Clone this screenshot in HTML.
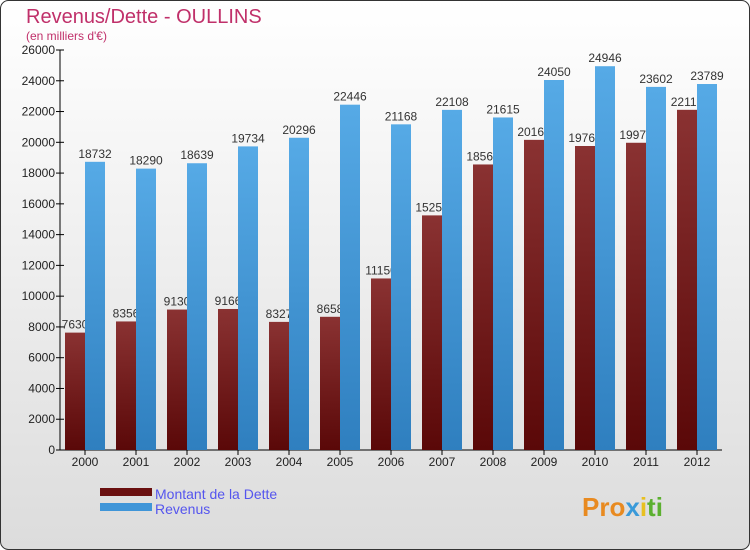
<!DOCTYPE html>
<html><head><meta charset="utf-8"><style>
body{margin:0;background:#fff}
svg{display:block;font-family:"Liberation Sans",sans-serif}
</style></head><body>
<svg id="c" width="750" height="550" xmlns="http://www.w3.org/2000/svg">
<defs>
<linearGradient id="bg" x1="0" y1="0" x2="0" y2="1"><stop offset="0" stop-color="#ffffff"/><stop offset="1" stop-color="#dcdcdc"/></linearGradient>
<linearGradient id="gd" x1="0" y1="0" x2="0" y2="1"><stop offset="0" stop-color="#8a3232"/><stop offset="1" stop-color="#5a0808"/></linearGradient>
<linearGradient id="gr" x1="0" y1="0" x2="0" y2="1"><stop offset="0" stop-color="#56aae6"/><stop offset="1" stop-color="#2f7fbf"/></linearGradient>
</defs>
<rect x="0.5" y="0.5" width="749" height="549" rx="8" fill="url(#bg)" stroke="#333"/>
<text x="26" y="23" font-size="20" fill="#c0306a">Revenus/Dette - OULLINS</text>
<text x="26" y="40" font-size="12" fill="#c0306a">(en milliers d'€)</text>
<g id="plot"></g>
<rect x="100" y="488" width="52" height="8" fill="#6a1010"/>
<text x="155" y="499" font-size="14" fill="#5555ee">Montant de la Dette</text>
<rect x="100" y="503" width="52" height="8" fill="#3f95d8"/>
<text x="155" y="514" font-size="14" fill="#5555ee">Revenus</text>
<text x="582" y="516" font-size="26" font-weight="bold" fill="#e88a20">Pro<tspan fill="#3a9ad9">x</tspan><tspan fill="#e8c020">i</tspan><tspan fill="#5cb030">ti</tspan></text>
</svg>
<script>
const years=["2000","2001","2002","2003","2004","2005","2006","2007","2008","2009","2010","2011","2012"];
const dette=[7630,8356,9130,9166,8327,8658,11150,15250,18560,20160,19760,19970,22112];
const revenus=[18732,18290,18639,19734,20296,22446,21168,22108,21615,24050,24946,23602,23789];
const ticks=[0,2000,4000,6000,8000,10000,12000,14000,16000,18000,20000,22000,24000,26000];
const NS="http://www.w3.org/2000/svg";
const g=document.getElementById('plot');
const y=v=>450-v*(400/26000);
const x=i=>85+i*51;
function mk(t,a){const e=document.createElementNS(NS,t);for(const k in a)e.setAttribute(k,a[k]);g.appendChild(e);return e;}
let ax=mk('line',{x1:60,y1:50,x2:60,y2:450,stroke:'#000'});


let bx=mk('line',{x1:60,y1:450,x2:722,y2:450,stroke:'#000'});


ticks.forEach(t=>{
 const l=mk('line',{x1:56,x2:64,y1:y(t),y2:y(t),stroke:'#000'});
 
 
 const tx=mk('text',{x:55,y:y(t)+4,'font-size':12,'text-anchor':'end',fill:'#222'});tx.textContent=t;
 
 
});
years.forEach((yr,i)=>{
 const b=mk('rect',{x:x(i)-20,y:y(dette[i]),width:20,height:450-y(dette[i]),fill:'url(#gd)'});
 
 
 const t=mk('text',{x:x(i)-10,y:y(dette[i])-4,'font-size':12,'text-anchor':'middle',fill:'#333'});t.textContent=dette[i];
 
 
});
years.forEach((yr,i)=>{
 const b=mk('rect',{x:x(i),y:y(revenus[i]),width:20,height:450-y(revenus[i]),fill:'url(#gr)'});
 
 
 const t=mk('text',{x:x(i)+10,y:y(revenus[i])-4,'font-size':12,'text-anchor':'middle',fill:'#333'});t.textContent=revenus[i];
 
 
 const l=mk('line',{x1:x(i),x2:x(i),y1:450,y2:455,stroke:'#000'});
 
 
 const xt=mk('text',{x:x(i),y:466,'font-size':12,'text-anchor':'middle',fill:'#222'});xt.textContent=yr;
 
 
});
</script>
</body></html>
